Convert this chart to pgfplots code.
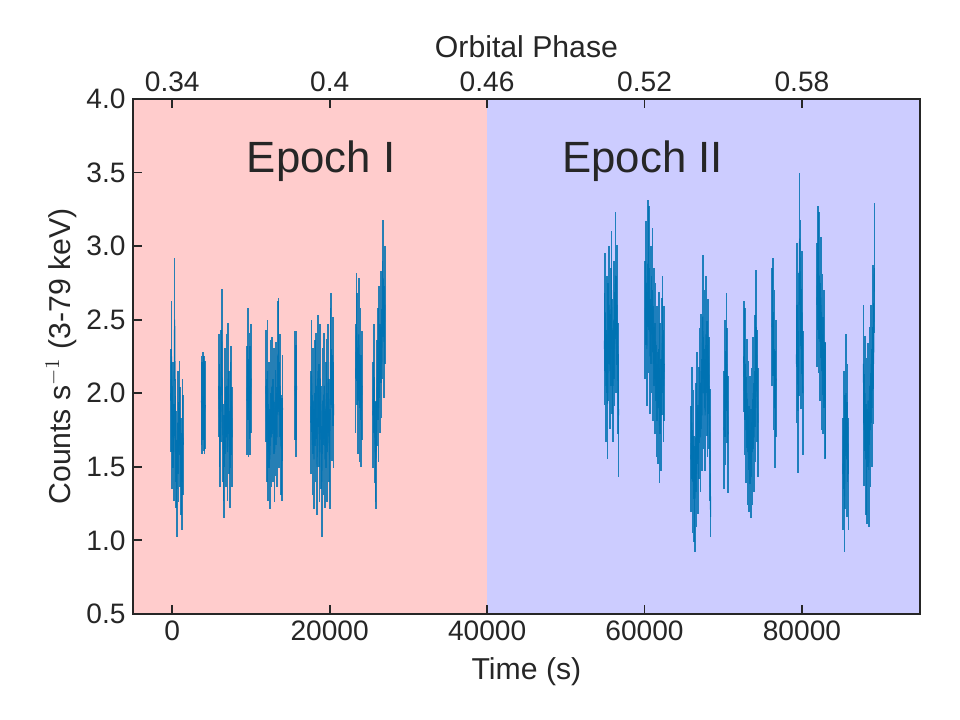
\documentclass[border=0pt]{standalone}
\usepackage{fontspec}
\setmainfont{Liberation Sans}
\usepackage{pgfplots}
\usepackage{pgfplotstable}
\pgfplotsset{compat=1.18}
\definecolor{txt}{HTML}{262626}
\definecolor{pinkbg}{HTML}{FFCCCC}
\definecolor{bluebg}{HTML}{CCCCFF}
\definecolor{lc}{HTML}{0072B2}

\pgfplotstableread{
t y e
-200 1.95 0.35
-100 2.25 0.38
0 1.70 0.35
100 1.85 0.36
200 1.60 0.33
300 2.50 0.42
400 1.75 0.35
500 1.55 0.33
600 1.35 0.33
700 1.80 0.35
800 1.60 0.34
900 1.90 0.32
1000 1.70 0.34
1100 1.50 0.33
1200 1.40 0.33
1300 1.75 0.35
1400 1.65 0.34
2000 nan nan
3700 1.95 0.30
3800 1.90 0.31
3900 1.98 0.30
4000 1.93 0.32
4100 1.88 0.29
4200 1.92 0.30
5000 nan nan
5900 2.05 0.35
6000 1.85 0.35
6100 1.70 0.34
6200 2.05 0.38
6300 2.35 0.36
6400 1.75 0.35
6500 1.60 0.33
6600 1.50 0.35
6700 1.95 0.36
6800 1.70 0.34
6900 2.05 0.35
7000 1.60 0.33
7100 2.10 0.38
7200 1.80 0.35
7300 1.55 0.33
7400 1.85 0.36
7500 1.95 0.37
7600 1.70 0.34
8500 nan nan
9500 1.95 0.37
9600 2.20 0.38
9700 1.90 0.33
9800 2.05 0.36
9900 1.95 0.37
10000 2.10 0.37
11000 nan nan
11900 2.05 0.38
12000 1.75 0.35
12100 2.15 0.35
12200 1.60 0.33
12300 1.85 0.36
12400 1.55 0.34
12500 2.00 0.36
12600 1.70 0.34
12700 2.05 0.33
12800 1.75 0.35
12900 1.95 0.36
13000 1.60 0.34
13100 1.80 0.36
13200 2.00 0.35
13300 1.70 0.34
13400 2.25 0.38
13500 2.27 0.38
13600 1.85 0.36
13700 2.05 0.35
13800 1.65 0.34
13900 1.62 0.35
14000 1.90 0.36
15000 nan nan
15600 2.05 0.37
15700 1.95 0.38
15800 2.05 0.37
16500 nan nan
17600 1.80 0.35
17700 2.12 0.38
17800 1.65 0.34
17900 1.95 0.36
18000 1.55 0.34
18100 2.00 0.36
18200 1.75 0.35
18300 2.05 0.36
18400 1.50 0.33
18500 2.15 0.38
18600 1.85 0.35
18700 1.60 0.34
18800 2.10 0.37
18900 1.70 0.35
19000 1.40 0.38
19100 1.95 0.36
19200 1.65 0.34
19300 2.05 0.36
19400 1.55 0.33
19500 1.85 0.36
19600 2.00 0.37
19700 1.60 0.34
19800 2.10 0.37
19900 1.75 0.35
20000 1.55 0.34
20100 2.20 0.38
20200 2.30 0.38
20300 1.90 0.36
20400 2.15 0.37
20500 1.85 0.36
22000 nan nan
23300 2.10 0.37
23400 2.45 0.37
23500 2.30 0.38
23600 1.95 0.36
23700 2.40 0.38
23800 1.90 0.37
23900 2.20 0.38
24000 1.88 0.38
24100 2.05 0.37
25000 nan nan
25500 1.85 0.36
25600 2.10 0.37
25700 1.75 0.36
25800 1.60 0.34
25900 1.58 0.37
26000 2.00 0.36
26100 2.20 0.38
26200 1.90 0.37
26300 2.35 0.38
26400 2.10 0.37
26500 2.45 0.38
26600 2.20 0.37
26700 2.50 0.40
26800 2.78 0.40
26900 2.35 0.38
27000 2.60 0.40
40000 nan nan
54900 2.30 0.38
55000 2.55 0.40
55100 2.05 0.38
55200 2.40 0.40
55300 1.93 0.38
55400 2.35 0.40
55500 2.60 0.40
55600 2.15 0.39
55700 2.45 0.40
55800 2.70 0.40
55900 2.25 0.39
56000 2.05 0.38
56100 2.50 0.40
56200 2.30 0.39
56300 2.80 0.43
56400 2.40 0.40
56500 2.60 0.41
56600 2.10 0.38
56700 1.85 0.42
58000 nan nan
60100 2.50 0.40
60200 2.75 0.42
60300 2.30 0.39
60400 2.88 0.43
60500 2.55 0.41
60600 2.85 0.42
60700 2.25 0.39
60800 2.60 0.40
60900 2.40 0.40
61000 2.70 0.42
61100 2.20 0.39
61200 2.45 0.40
61300 2.10 0.38
61400 2.35 0.40
61500 1.95 0.38
61600 2.20 0.39
61700 1.90 0.38
61800 2.30 0.39
61900 1.78 0.39
62000 2.10 0.38
62100 1.85 0.38
62200 2.25 0.40
62300 2.40 0.40
62400 2.05 0.38
62500 2.20 0.39
64000 nan nan
65900 1.55 0.36
66000 1.80 0.38
66100 1.40 0.35
66200 1.65 0.37
66300 1.35 0.36
66400 1.28 0.36
66500 1.70 0.37
66600 1.45 0.36
66700 1.90 0.38
66800 1.55 0.37
66900 1.80 0.38
67000 2.05 0.39
67100 1.70 0.37
67200 2.15 0.39
67300 1.85 0.38
67400 2.52 0.42
67500 2.00 0.38
67600 2.30 0.40
67700 1.85 0.38
67800 2.40 0.40
67900 2.10 0.39
68000 1.95 0.38
68100 2.25 0.39
68200 2.00 0.38
68300 1.65 0.38
68400 1.16 0.14
69300 nan nan
70100 1.75 0.40
70200 2.10 0.40
70300 1.90 0.39
70400 2.28 0.40
70500 2.05 0.39
70600 1.72 0.40
71500 nan nan
72600 2.25 0.38
72700 1.95 0.37
72800 2.20 0.38
72900 1.75 0.36
73000 2.00 0.37
73100 1.60 0.36
73200 1.85 0.37
73300 1.55 0.36
73400 1.75 0.37
73500 1.52 0.37
73600 1.80 0.37
73700 1.60 0.36
73800 2.00 0.38
73900 1.70 0.37
74000 2.15 0.38
74100 1.90 0.37
74200 2.45 0.39
74300 2.05 0.38
74400 1.80 0.37
75300 nan nan
76200 2.45 0.40
76300 2.52 0.40
76400 2.15 0.40
76500 2.30 0.40
76600 1.89 0.40
76700 2.10 0.40
78000 nan nan
79300 2.20 0.40
79400 2.60 0.42
79500 1.88 0.42
79600 2.40 0.42
79700 3.05 0.45
79800 2.75 0.43
79900 2.30 0.41
80000 2.55 0.42
80100 2.00 0.42
81000 nan nan
81900 2.60 0.42
82000 2.85 0.42
82100 2.55 0.41
82200 2.80 0.43
82300 2.35 0.40
82400 2.65 0.41
82500 2.15 0.40
82600 2.40 0.41
82700 2.12 0.40
82800 2.30 0.40
82900 1.95 0.40
83000 1.95 0.39
84000 nan nan
85200 1.45 0.38
85300 1.75 0.40
85400 1.30 0.38
85500 1.60 0.39
85600 2.00 0.40
85700 1.55 0.39
85800 1.80 0.40
85900 1.45 0.38
87000 nan nan
87800 2.20 0.40
87900 1.75 0.38
88000 2.00 0.39
88100 1.55 0.38
88200 1.85 0.39
88300 1.50 0.39
88400 1.95 0.39
88500 1.48 0.39
88600 2.05 0.40
88700 1.75 0.39
88800 2.20 0.40
88900 1.90 0.40
89000 2.45 0.42
89100 2.20 0.41
89200 2.85 0.44
}\lcdata

\pgfplotsset{
  commonstyle/.style={
    scale only axis, width=377.8pt, height=247.2pt,
    at={(0,0)}, anchor=south west,
    xmin=-5000, xmax=95000, ymin=0.5, ymax=4.0,
    tick align=inside,
    major tick length=4.5pt,
    every tick/.style={line width=0.9pt, color=txt},
    axis line style={line width=1pt, color=txt},
    ticklabel style={font=\fontsize{13.5}{16}\selectfont, text=txt},
    label style={font=\fontsize{14.5}{17}\selectfont, text=txt},
    /pgf/number format/assume math mode=true,
    /pgf/number format/1000 sep={},
    scaled x ticks=false,
  }
}

\begin{document}
\begin{tikzpicture}
\path[use as bounding box] (-63.8pt,-50.9pt) rectangle (397pt,294.7pt);
\begin{axis}[commonstyle,
  axis on top,
  xtick={0,20000,40000,60000,80000},
  ytick={0.5,1.0,1.5,2.0,2.5,3.0,3.5,4.0},
  yticklabel style={/pgf/number format/fixed, /pgf/number format/fixed zerofill, /pgf/number format/precision=1},
  xtick pos=bottom, ytick pos=left,
  xlabel={Time (s)},
  ylabel={Counts s$^{-1}$ (3-79 keV)},
  xlabel style={yshift=-1pt},
  ylabel style={yshift=-2pt},
]
\addplot[fill=pinkbg, draw=none] coordinates {(-5000,4) (40000,4)} \closedcycle;
\addplot[fill=bluebg, draw=none] coordinates {(40000,4) (95000,4)} \closedcycle;
\addplot[lc, line width=0.55pt, draw opacity=0.9, mark=none, unbounded coords=jump,
  error bars/.cd, y dir=both, y explicit, error mark=none,
  error bar style={line width=0.8pt, lc, draw opacity=0.85}]
  table[x=t, y=y, y error=e] {\lcdata};
\node[font=\fontsize{21}{25}\selectfont, text=txt] at (axis cs:18900,3.58) {Epoch I};
\node[font=\fontsize{21}{25}\selectfont, text=txt] at (axis cs:59750,3.58) {Epoch II};
\end{axis}
\begin{axis}[commonstyle,
  axis x line*=top,
  axis y line=none,
  xtick={0,20000,40000,60000,80000},
  xticklabels={0.34,0.4,0.46,0.52,0.58},
  xlabel={Orbital Phase},
]
\end{axis}
\end{tikzpicture}
\end{document}
